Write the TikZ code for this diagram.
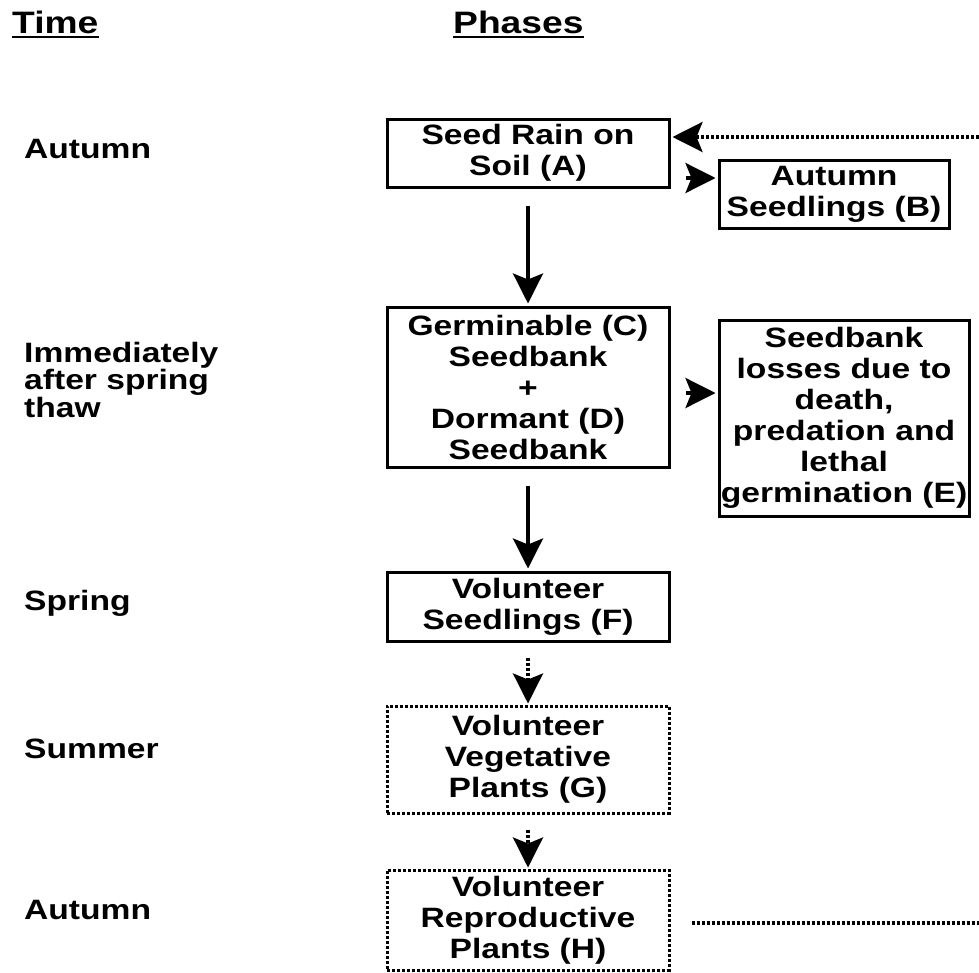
\documentclass[tikz,border=0pt]{standalone}
\usepackage{fontspec}
\setmainfont[FakeStretch=1.2]{Liberation Sans}
\usetikzlibrary{arrows.meta}
\begin{document}
\begin{tikzpicture}[x=1pt,y=-1pt,
  every node/.style={font=\fontsize{28}{31}\selectfont\bfseries},
  phase/.style={draw, line width=3pt, align=center, inner sep=0pt},
  dphase/.style={phase, dash pattern=on 3pt off 2pt},
  timelbl/.style={anchor=west, align=left, inner sep=0pt, font=\fontsize{28}{25.5}\selectfont\bfseries},
  head/.style={anchor=base west, inner sep=0pt, font=\fontsize{31}{34}\selectfont\bfseries},
  tip/.style={-{Stealth[length=30pt,width=30pt,inset=6pt]}},
  arr/.style={tip, line width=3.5pt},
  darr/.style={tip, line width=3.5pt, dash pattern=on 3pt off 2pt},
  dline/.style={line width=3.5pt, dash pattern=on 3pt off 2pt}]
\useasboundingbox (0,0) rectangle (979,972);
% headers
\node[head] (time) at (12,33) {Time};
\node[head] (phases) at (453,33) {Phases};
\draw[line width=2.5pt] ([yshift=-4pt]time.base west) -- ([yshift=-4pt]time.base east);
\draw[line width=2.5pt] ([yshift=-4pt]phases.base west) -- ([yshift=-4pt]phases.base east);
% time labels
\node[timelbl] (t1) at (24,149) {Autumn};
\node[timelbl] (t2) at (24,380) {Immediately\\after spring\\thaw};
\node[timelbl] (t3) at (24,603) {Spring};
\node[timelbl] (t4) at (24,749) {Summer};
\node[timelbl] (t5) at (24,910) {Autumn};
% phase boxes
\node[phase, minimum width=282pt, minimum height=68pt] (A) at (528,153) {Seed Rain on\\Soil (A)};
\node[phase, minimum width=230pt, minimum height=68pt] (B) at (834,194) {Autumn\\Seedlings (B)};
\node[phase, minimum width=282pt, minimum height=160pt] (CD) at (528,387) {Germinable (C)\\Seedbank\\+\\Dormant (D)\\Seedbank};
\node[phase, minimum width=250pt, minimum height=196pt] (E) at (844,418) {Seedbank\\losses due to\\death,\\predation and\\lethal\\germination (E)};
\node[phase, minimum width=282pt, minimum height=69pt] (F) at (528,606.5) {Volunteer\\Seedlings (F)};
\node[dphase, minimum width=282pt, minimum height=107pt] (G) at (528,759.5) {Volunteer\\Vegetative\\Plants (G)};
\node[dphase, minimum width=282pt, minimum height=100pt] (H) at (528,920) {Volunteer\\Reproductive\\Plants (H)};
% connectors
\draw[arr] ([yshift=-17pt]A.south) -- ([yshift=2pt]CD.north);
\draw[arr] ([yshift=-17pt]CD.south) -- ([yshift=2pt]F.north);
\draw[darr] ([yshift=-15pt]F.south) -- ([yshift=1pt]G.north);
\draw[darr] ([yshift=-15pt]G.south) -- ([yshift=1pt]H.north);
\coordinate (ab) at (686,178);
\draw[arr] (ab) -- ([xshift=-2pt]ab -| B.west);
\coordinate (ce) at (686,393);
\draw[arr] (ce) -- ([xshift=-2pt]ce -| E.west);
\coordinate (fbtop) at (979,137);
\draw[darr] (fbtop) -- ([xshift=2pt]fbtop -| A.east);
\coordinate (fbbot) at (979,923);
\draw[dline] ([xshift=21pt]fbbot -| H.east) -- (fbbot);
\end{tikzpicture}
\end{document}
